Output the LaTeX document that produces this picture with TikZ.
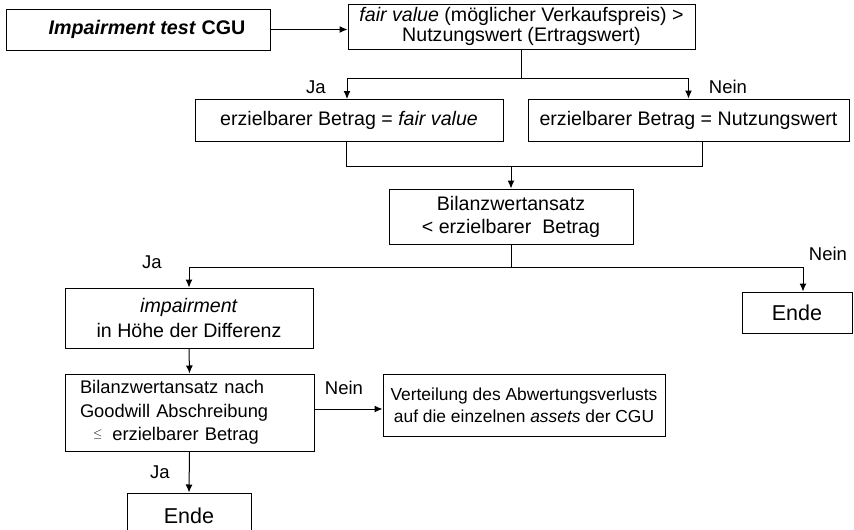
\documentclass[tikz,border=0pt]{standalone}
\usepackage{fontspec}
\setmainfont{Liberation Sans}
\usetikzlibrary{arrows.meta}

\begin{document}
\begin{tikzpicture}[x=1pt, y=-1pt, line width=1pt,
    box/.style={draw, inner sep=0pt, align=center, font=\fontsize{19.6}{20.5}\selectfont},
    lbl/.style={inner sep=0pt, font=\fontsize{18.5}{21}\selectfont},
    arr/.style={-{Latex[length=8pt, width=7pt]}}]
    \useasboundingbox (0,0) rectangle (854,530);
    \clip (0,0) rectangle (854,530);
    % boxes
    \node[box, minimum width=264, minimum height=41, font=\fontsize{19.7}{22}\selectfont\bfseries\itshape] (cgu) at (138,29.5) {\hspace*{18pt}Impairment test \textup{CGU}};
    \node[box, minimum width=347, minimum height=45] (fv) at (521.5,26.5) {\textit{fair value} (möglicher Verkaufspreis) >\\Nutzungswert (Ertragswert)};
    \node[box, minimum width=308, minimum height=42] (ebfv) at (349,120.5) {erzielbarer Betrag = \textit{fair value}};
    \node[box, minimum width=321, minimum height=42] (ebnw) at (688.5,120) {erzielbarer Betrag = Nutzungswert};
    \node[box, minimum width=244, minimum height=55, font=\fontsize{19.6}{23}\selectfont] (bil) at (511,216.5) {Bilanzwertansatz\\< erzielbarer\ \ Betrag};
    \node[box, minimum width=248, minimum height=60, font=\fontsize{19.6}{25}\selectfont] (imp) at (189,318) {\textit{impairment}\\in Höhe der Differenz};
    \node[box, minimum width=110, minimum height=41, font=\fontsize{21.5}{24}\selectfont] (ende1) at (797,312.5) {Ende};
    \node[box, text width=219pt, inner xsep=15pt, minimum height=77, align=left, font=\fontsize{18.3}{23.5}\selectfont] (bgw) at (189.5,412.5) {Bilanzwertansatz nach\\Goodwill Abschreibung\\\hspace*{13pt}\raisebox{3pt}{$\scriptstyle\leq$}\hspace{10pt}erzielbarer Betrag};
    \node[box, minimum width=282, minimum height=62, font=\fontsize{17.4}{22}\selectfont] (vert) at (524,405) {Verteilung des Abwertungsverlusts\\auf die einzelnen \textit{assets} der CGU};
    \node[box, minimum width=124, minimum height=46, font=\fontsize{21.5}{24}\selectfont] (ende2) at (189,516) {Ende};
    % labels
    \node[lbl] (ja1) at (316,87) {Ja};
    \node[lbl] (nein1) at (728,87) {Nein};
    \node[lbl] (ja2) at (152,262) {Ja};
    \node[lbl] (nein2) at (828,254) {Nein};
    \node[lbl] (nein3) at (344,388) {Nein};
    \node[lbl] (ja3) at (160,472) {Ja};
    % connectors
    \draw[arr] (cgu.east) -- (cgu.east -| fv.west);
    \coordinate (s1) at (521.5,78);
    \draw (fv.south) -- (s1);
    \draw[arr] (s1) -| ([xshift=-2pt]ebfv.north);
    \draw[arr] (s1) -| (ebnw.north);
    \coordinate (s2) at (511,166);
    \draw ([xshift=-3pt]ebfv.south) |- (s2);
    \draw ([xshift=13.5pt]ebnw.south) |- (s2);
    \draw[arr] (s2) -- (bil.north);
    \coordinate (s3) at (511,267);
    \draw (bil.south) -- (s3);
    \draw[arr] (s3) -| (imp.north);
    \draw[arr] (s3) -| ([xshift=6pt]ende1.north);
    \draw[arr] (imp.south) -- (bgw.north);
    \coordinate (g1) at ([yshift=3.5pt]bgw.east);
    \draw[arr] (g1) -- (g1 -| vert.west);
    \draw[arr] (bgw.south) -- (ende2.north);
\end{tikzpicture}
\end{document}
